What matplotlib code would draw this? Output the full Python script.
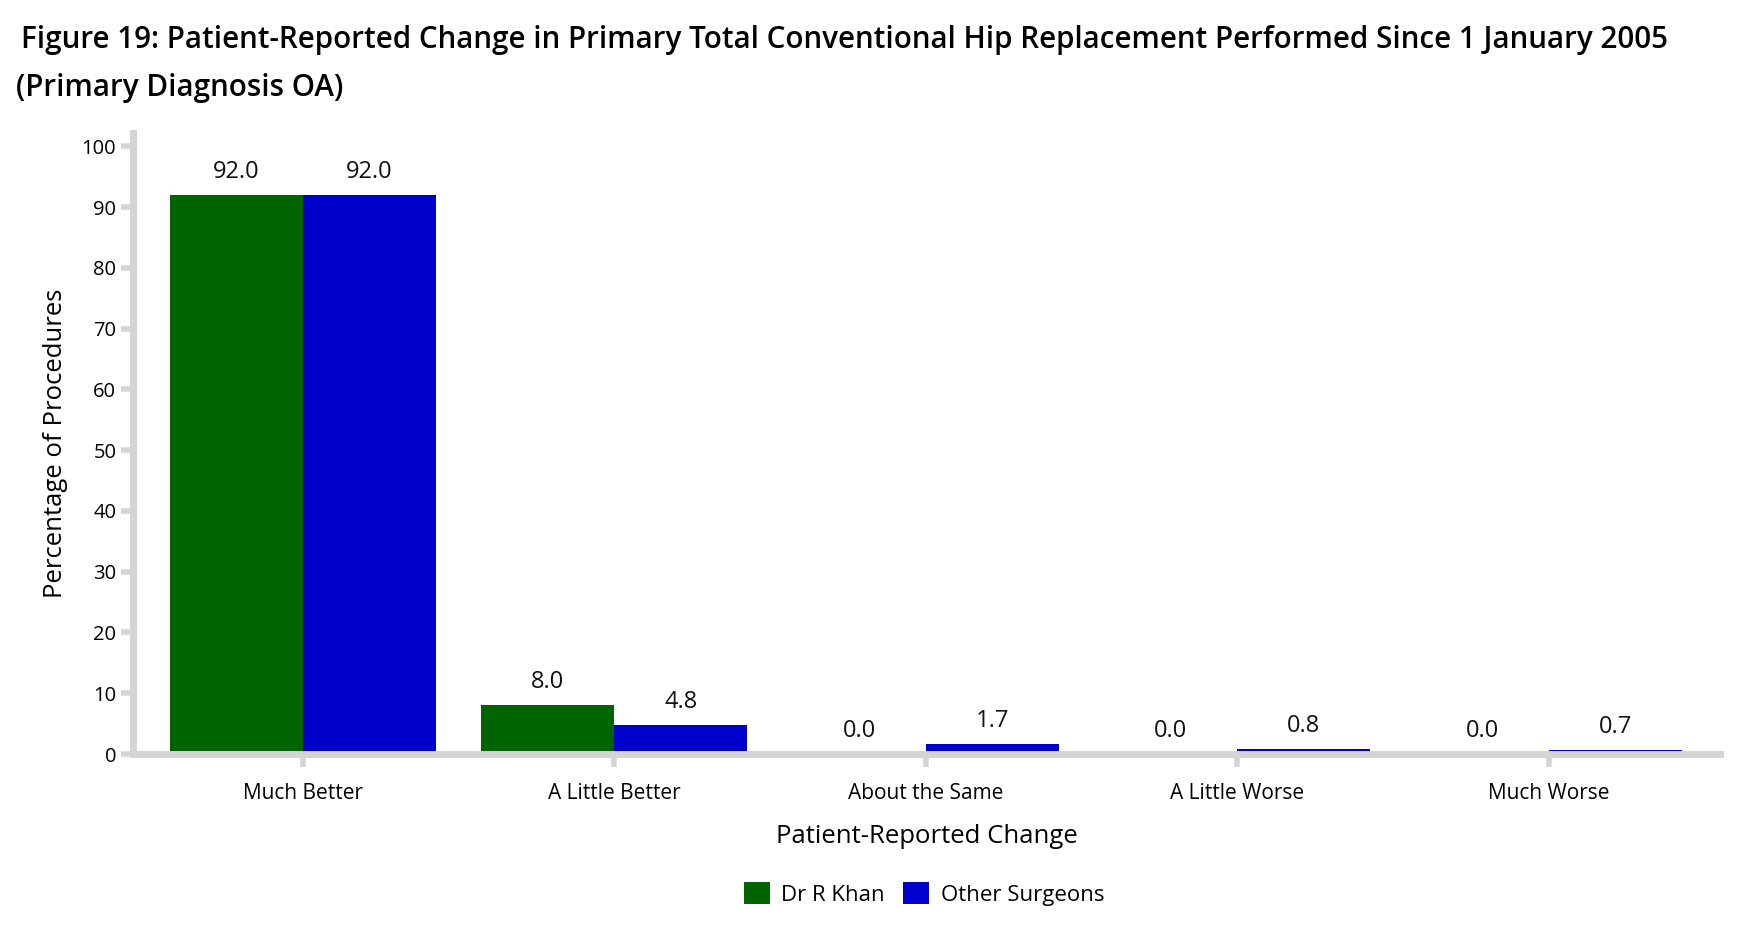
import numpy as np
import matplotlib.pyplot as plt

categories = ["Much Better", "A Little Better", "About the Same", "A Little Worse", "Much Worse"]
khan = [92.0, 8.0, 0.0, 0.0, 0.0]
others = [92.0, 4.8, 1.7, 0.8, 0.7]
series_names = ["Dr R Khan", "Other Surgeons"]
yticks = [0, 10, 20, 30, 40, 50, 60, 70, 80, 90, 100]

plt.rcParams['font.family'] = ['Open Sans', 'DejaVu Sans']

fig = plt.figure(figsize=(17.63, 9.27), dpi=100)
ax = fig.add_axes([0.0754, 0.1866, 0.9002, 0.670])

x = np.arange(len(categories))
w = 0.427
gray = '#d4d4d4'

b1 = ax.bar(x - w / 2, khan, w, color='#006400', label=series_names[0])
b2 = ax.bar(x + w / 2, others, w, color='#0000cd', label=series_names[1])

# value labels above each bar
for bars, vals in ((b1, khan), (b2, others)):
    for r, v in zip(bars, vals):
        ax.annotate(f"{v:.1f}", (r.get_x() + r.get_width() / 2, v),
                    xytext=(0, 8), textcoords='offset points',
                    ha='center', va='bottom', fontsize=17, color='#111111')

ax.set_xlim(-0.545, 4.55)
ax.set_ylim(0, 102.2)
ax.set_yticks(yticks)
ax.set_xticks(x)
ax.set_xticklabels(categories, fontsize=15)
ax.tick_params(axis='y', labelsize=14.5, length=9, width=4, color=gray, pad=3)
ax.tick_params(axis='x', length=9, width=4, color=gray, pad=12)

for s in ('top', 'right'):
    ax.spines[s].set_visible(False)
for s in ('left', 'bottom'):
    ax.spines[s].set_color(gray)
    ax.spines[s].set_linewidth(5)

ax.set_ylabel("Percentage of Procedures", fontsize=18.5, labelpad=10)
ax.set_xlabel("Patient-Reported Change", fontsize=18.5, labelpad=14)

fig.text(0.012, 0.957, "Figure 19: Patient-Reported Change in Primary Total Conventional Hip Replacement Performed Since 1 January 2005",
         fontsize=21.3, weight='semibold', ha='left', va='center')
fig.text(0.009, 0.905, "(Primary Diagnosis OA)", fontsize=21.3, weight='semibold', ha='left', va='center')

fig.legend(handles=[b1, b2], loc='center', bbox_to_anchor=(0.524, 0.036), ncol=2,
           frameon=False, fontsize=16, handlelength=1.2, handleheight=1.2,
           handletextpad=0.5, columnspacing=0.8)

fig.savefig("out.png", dpi=100)
